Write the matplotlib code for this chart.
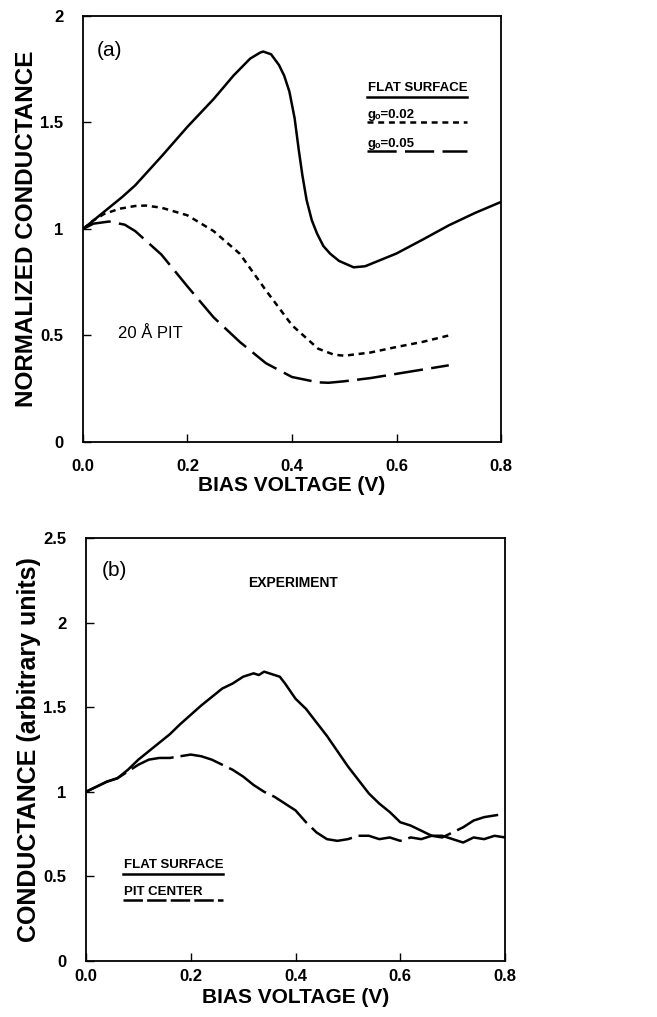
import matplotlib
matplotlib.use("Agg")
import matplotlib.pyplot as plt

plt.rcParams['font.family'] = ['Liberation Sans', 'DejaVu Sans']
plt.rcParams['lines.scale_dashes'] = False

# ---------------- Panel (a) data ----------------
a_flat_x = [0, 0.025, 0.05, 0.075, 0.1, 0.15, 0.2, 0.25, 0.288, 0.32, 0.339, 0.345, 0.36, 0.375,
            0.385, 0.395, 0.405, 0.413, 0.42, 0.428, 0.438, 0.448, 0.46, 0.473, 0.49, 0.518,
            0.54, 0.6, 0.65, 0.7, 0.75, 0.8]
a_flat_y = [1.0, 1.05, 1.10, 1.15, 1.205, 1.34, 1.48, 1.61, 1.72, 1.80, 1.828, 1.833, 1.82, 1.77,
            1.72, 1.645, 1.52, 1.37, 1.25, 1.135, 1.04, 0.978, 0.92, 0.884, 0.85, 0.82,
            0.825, 0.885, 0.95, 1.017, 1.075, 1.127]

a_g002_x = [0, 0.02, 0.04, 0.07, 0.1, 0.12, 0.15, 0.2, 0.25, 0.3, 0.35, 0.4, 0.45, 0.48, 0.5,
            0.55, 0.6, 0.65, 0.7]
a_g002_y = [1.0, 1.04, 1.07, 1.095, 1.108, 1.11, 1.10, 1.064, 0.99, 0.884, 0.712, 0.548, 0.438,
            0.41, 0.405, 0.42, 0.446, 0.47, 0.50]

a_g005_x = [0, 0.02, 0.05, 0.08, 0.1, 0.15, 0.2, 0.25, 0.3, 0.35, 0.4, 0.45, 0.47, 0.5, 0.55,
            0.6, 0.65, 0.7]
a_g005_y = [1.0, 1.025, 1.035, 1.02, 0.99, 0.88, 0.73, 0.585, 0.47, 0.37, 0.305, 0.28, 0.278,
            0.285, 0.30, 0.32, 0.34, 0.36]

# ---------------- Panel (b) data ----------------
b_x = [0, 0.02, 0.04, 0.06, 0.08, 0.10, 0.12, 0.14, 0.16, 0.18, 0.20, 0.22, 0.24, 0.26, 0.28,
       0.30, 0.31, 0.32, 0.33, 0.34, 0.35, 0.36, 0.37, 0.38, 0.40, 0.42, 0.44, 0.46, 0.48, 0.50,
       0.52, 0.54, 0.56, 0.58, 0.60, 0.62, 0.64, 0.66, 0.68, 0.70, 0.72, 0.74, 0.76, 0.78, 0.80]
b_flat_y = [1.00, 1.03, 1.06, 1.08, 1.13, 1.19, 1.24, 1.29, 1.34, 1.40, 1.455, 1.51, 1.56, 1.61,
            1.64, 1.68, 1.69, 1.70, 1.69, 1.71, 1.70, 1.69, 1.68, 1.64, 1.55, 1.49, 1.41, 1.33,
            1.24, 1.15, 1.07, 0.99, 0.93, 0.88, 0.82, 0.80, 0.77, 0.74, 0.74, 0.72, 0.70, 0.73,
            0.72, 0.74, 0.73]
b_pit_y = [1.00, 1.03, 1.06, 1.08, 1.12, 1.16, 1.19, 1.20, 1.20, 1.21, 1.22, 1.21, 1.19, 1.16,
           1.13, 1.09, 1.065, 1.04, 1.02, 1.00, 0.985, 0.97, 0.95, 0.93, 0.89, 0.82, 0.76, 0.72,
           0.71, 0.72, 0.74, 0.74, 0.72, 0.73, 0.71, 0.73, 0.72, 0.74, 0.73, 0.76, 0.79, 0.83,
           0.85, 0.86, 0.87]

a_xticks = [0.0, 0.2, 0.4, 0.6, 0.8]
a_xticklabels = ['0.0', '0.2', '0.4', '0.6', '0.8']
a_yticks = [0, 0.5, 1, 1.5, 2]
a_yticklabels = ['0', '0.5', '1', '1.5', '2']
b_yticks = [0, 0.5, 1, 1.5, 2, 2.5]
b_yticklabels = ['0', '0.5', '1', '1.5', '2', '2.5']

fig = plt.figure(figsize=(6.57, 10.17), dpi=100)
ax1 = fig.add_axes([0.1263, 0.5654, 0.6363, 0.4189])
ax2 = fig.add_axes([0.1309, 0.0551, 0.6378, 0.4159])

LW = 1.8
DOT = (0, (4.3, 3.4))
DASH_A = (0, (21, 6))
DASH_B = (0, (32, 5))


def style(ax, yticks, yticklabels, ylim, ylabel, ylabsize, xpad, xlabpad, ylabpad):
    ax.set_xlim(0, 0.8)
    ax.set_ylim(*ylim)
    ax.set_xticks(a_xticks)
    ax.set_xticklabels(a_xticklabels)
    ax.set_yticks(yticks)
    ax.set_yticklabels(yticklabels)
    ax.tick_params(direction='in', length=6, width=1.0, labelsize=12)
    ax.tick_params(axis='y', pad=14)
    ax.tick_params(axis='x', pad=xpad)
    for lab in ax.get_xticklabels() + ax.get_yticklabels():
        lab.set_fontweight('bold')
    for sp in ax.spines.values():
        sp.set_linewidth(1.3)
    ax.set_xlabel('BIAS VOLTAGE (V)', fontsize=15, fontweight='bold', labelpad=xlabpad)
    ax.set_ylabel(ylabel, fontsize=ylabsize, fontweight='bold', labelpad=ylabpad)


# Panel (a)
ax1.plot(a_flat_x, a_flat_y, color='black', lw=LW, solid_capstyle='butt')
ax1.plot(a_g002_x, a_g002_y, color='black', lw=LW, linestyle=DOT)
ax1.plot(a_g005_x, a_g005_y, color='black', lw=LW, linestyle=DASH_A)
style(ax1, a_yticks, a_yticklabels, (0, 2), 'NORMALIZED CONDUCTANCE', 17.5, 12, 1.5, 2)
ax1.text(0.027, 1.84, '(a)', fontsize=15, va='center', ha='left')
ax1.text(0.067, 0.51, '20 Å PIT', fontsize=12, va='center', ha='left')
ax1.text(0.545, 1.66, 'FLAT SURFACE', fontsize=9.5, fontweight='bold', va='center', ha='left')
ax1.plot([0.543, 0.735], [1.62, 1.62], color='black', lw=LW)
ax1.text(0.545, 1.535, 'g\u2092=0.02', fontsize=9.5, fontweight='bold', va='center', ha='left')
ax1.plot([0.543, 0.735], [1.50, 1.50], color='black', lw=LW, linestyle=DOT)
ax1.text(0.545, 1.40, 'g\u2092=0.05', fontsize=9.5, fontweight='bold', va='center', ha='left')
ax1.plot([0.543, 0.735], [1.366, 1.366], color='black', lw=LW, linestyle=DASH_A)

# Panel (b)
ax2.plot(b_x, b_flat_y, color='black', lw=LW)
ax2.plot(b_x, b_pit_y, color='black', lw=LW, linestyle=DASH_B)
style(ax2, b_yticks, b_yticklabels, (0, 2.5), 'CONDUCTANCE (arbitrary units)', 18, 6, 3, 2)
ax2.text(0.03, 2.31, '(b)', fontsize=15, va='center', ha='left')
ax2.text(0.395, 2.234, 'EXPERIMENT', fontsize=10, fontweight='bold', va='center', ha='center')
ax2.text(0.072, 0.567, 'FLAT SURFACE', fontsize=9.5, fontweight='bold', va='center', ha='left')
ax2.plot([0.071, 0.262], [0.514, 0.514], color='black', lw=LW)
ax2.text(0.072, 0.408, 'PIT CENTER', fontsize=9.5, fontweight='bold', va='center', ha='left')
ax2.plot([0.071, 0.262], [0.36, 0.36], color='black', lw=LW, linestyle=(0, (14, 3)))

fig.savefig('out.png', dpi=100)
